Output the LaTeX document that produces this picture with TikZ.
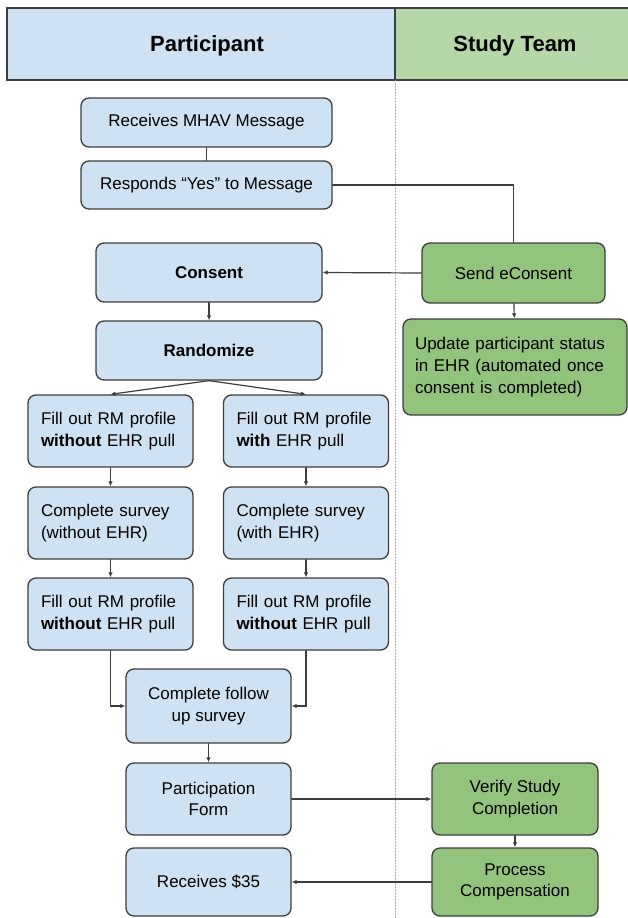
\documentclass[tikz,border=0pt]{standalone}
\usepackage{fontspec}
\setmainfont{Liberation Sans}
\usepackage{tikz}
\usetikzlibrary{arrows.meta,positioning}
\definecolor{carbon}{HTML}{3D3D3D}
\definecolor{celeste}{HTML}{CFE2F3}
\definecolor{pasto}{HTML}{B6D7A8}
\definecolor{hoja}{HTML}{93C47D}
\definecolor{gris}{HTML}{9A9A9A}

\begin{document}
\begin{tikzpicture}[x=1pt,y=-1pt,>={Latex[length=5pt,width=4.5pt]},line cap=round,
    font=\fontsize{17}{21.7}\selectfont,
    caja/.style={draw=carbon,line width=1.3pt,rounded corners=8pt,inner xsep=12pt,inner ysep=0pt},
    pbox/.style={caja,fill=celeste,align=center},
    tbox/.style={caja,fill=hoja,align=center},
    lbox/.style={caja,fill=celeste,align=left,text width=139pt,inner xsep=13pt,minimum height=72pt},
    enlace/.style={draw=carbon,line width=1.2pt},
    flecha/.style={enlace,->}]
  \useasboundingbox (0,0) rectangle (628,918);
  % --- carriles ---
  \fill[celeste] (7,8) rectangle (395,80);
  \fill[pasto] (395,8) rectangle (628,80);
  \draw[carbon,line width=1.4pt] (628,8) -- (7,8) -- (7,80) -- (628,80);
  \draw[carbon,line width=1.2pt] (395,8) -- (395,80);
  \draw[gris,dotted,line width=1pt] (395,80) -- (395,918);
  \node[font=\fontsize{22}{26}\selectfont\bfseries] (hpart) at (207,46) {Participant};
  \node[font=\fontsize{22}{26}\selectfont\bfseries] (hteam) at (515,46) {Study Team};
  % --- participante ---
  \node[pbox,minimum width=251pt,minimum height=49pt] (recv) at (206.5,122.5) {Receives MHAV Message};
  \node[pbox,minimum width=251pt,minimum height=48pt] (resp) at (206.5,185) {Responds “Yes” to Message};
  \node[pbox,minimum width=226pt,minimum height=59pt,font=\fontsize{17}{21.7}\selectfont\bfseries] (consent) at (209,272.5) {Consent};
  \node[pbox,minimum width=226pt,minimum height=59pt,font=\fontsize{17}{21.7}\selectfont\bfseries] (rand) at (209,350.5) {Randomize};
  \node[lbox] (fillA) at (110.5,431) {Fill out RM profile\\\textbf{without} EHR pull};
  \node[lbox] (fillB) at (306,431) {Fill out RM profile\\\textbf{with} EHR pull};
  \node[lbox] (survA) at (110.5,523) {Complete survey\\(without EHR)};
  \node[lbox] (survB) at (306,523) {Complete survey\\(with EHR)};
  \node[lbox] (fillC) at (110.5,614) {Fill out RM profile\\\textbf{without} EHR pull};
  \node[lbox] (fillD) at (306,614) {Fill out RM profile\\\textbf{without} EHR pull};
  \node[pbox,minimum width=165pt,minimum height=74pt] (follow) at (208.5,706) {Complete follow\\up survey};
  \node[pbox,minimum width=165pt,minimum height=72pt] (form) at (208.5,799) {Participation\\Form};
  \node[pbox,minimum width=165pt,minimum height=68pt] (paid) at (208.5,882) {Receives \$35};
  % --- equipo de estudio ---
  \node[tbox,minimum width=183pt,minimum height=60pt] (econs) at (513.5,273) {Send eConsent};
  \node[tbox,align=left,text width=200pt,minimum height=96pt] (update) at (515,367)
       {Update participant status\\in EHR (automated once\\consent is completed)};
  \node[tbox,minimum width=166pt,minimum height=72pt] (verify) at (515,799) {Verify Study\\Completion};
  \node[tbox,minimum width=166pt,minimum height=68pt] (comp) at (515,882) {Process\\Compensation};
  % --- conexiones ---
  \draw[enlace] (recv) -- (resp);
  \draw[enlace] (resp.east) -| (econs.north);
  \draw[flecha] (econs.west) -- (consent.east);
  \draw[flecha] (econs) -- (update);
  \draw[flecha] (consent) -- (rand);
  \draw[flecha] (rand.south) -- (fillA.north);
  \draw[flecha] (rand.south) -- (fillB.north);
  \draw[flecha] (fillA) -- (survA);
  \draw[flecha] (fillB) -- (survB);
  \draw[flecha] (survA) -- (fillC);
  \draw[flecha] (survB) -- (fillD);
  \draw[flecha] (fillC.south) |- (follow.west);
  \draw[flecha] (fillD.south) |- (follow.east);
  \draw[flecha] (follow) -- (form);
  \draw[flecha] (form) -- (verify);
  \draw[flecha] (verify) -- (comp);
  \draw[flecha] (comp) -- (paid);
\end{tikzpicture}
\end{document}
